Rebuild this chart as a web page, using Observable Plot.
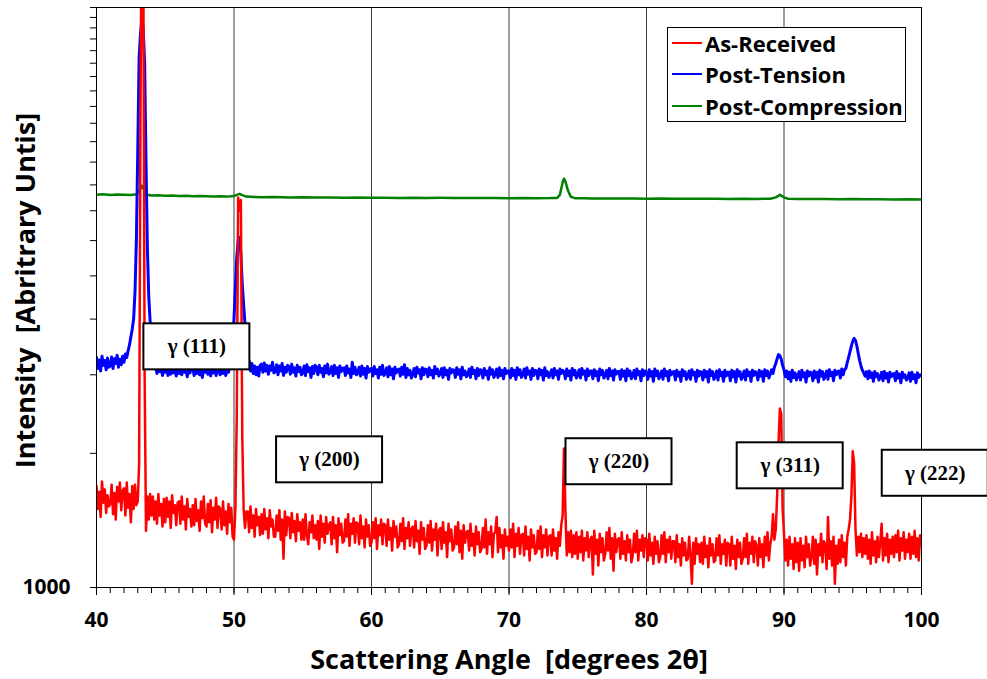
<!DOCTYPE html>
<html><head><meta charset="utf-8">
<script src="https://cdn.jsdelivr.net/npm/d3@7"></script>
<script src="https://cdn.jsdelivr.net/npm/@observablehq/plot@0.6"></script>
<style>
html,body{margin:0;padding:0;background:#fff;}
#chart{position:relative;width:987px;height:679px;}
#legend{position:absolute;left:667px;top:27px;width:237px;height:93px;border:1px solid #000;background:#fff;font-family:"Open Sans",sans-serif;font-weight:bold;font-size:22px;color:#000;}
.item{position:absolute;left:4px;height:24px;display:flex;align-items:center;white-space:nowrap;}
.sw{width:30px;height:2.5px;margin-right:3px;}
</style></head><body><div id="chart"></div>
<script>
// ---- series meta ----
const seriesNames = ["As-Received", "Post-Tension", "Post-Compression"];
const seriesColors = ["#ff0000", "#0000ff", "#008000"];

// ---- sampling grid of the red/blue scans: 40° .. 100° every 0.1° ----
const scanStart = 40, scanStep = 0.1;

// ---- As-Received intensities (one row = one degree, 10 samples) ----
const redValues = [
1690,1500,1640,1440,1730,1550,1660,1470,1610,1520, // 40
1540,1700,1460,1630,1420,1680,1560,1720,1490,1650, // 41
1670,1450,1720,1510,1620,1400,1690,1500,1700,1530, // 42
1560,1900,12000,40000,30000,3000,1340,1600,1420,1620, // 43
1450,1600,1420,1560,1390,1620,1450,1540,1370,1580, // 44
1400,1590,1440,1560,1360,1610,1470,1530,1380,1550, // 45
1560,1390,1600,1420,1520,1350,1580,1440,1500,1370, // 46
1530,1380,1580,1410,1490,1340,1560,1430,1600,1390, // 47
1370,1540,1400,1570,1330,1510,1420,1590,1360,1520, // 48
1500,1350,1560,1380,1480,1320,1540,1400,1510,1300, // 49
1280,1500,2400,7500,7000,7400,2200,1500,1360,1480, // 50
1480,1330,1520,1360,1450,1300,1500,1380,1440,1310, // 51
1460,1320,1500,1350,1430,1290,1490,1370,1420,1300, // 52
1300,1450,1340,1490,1280,1420,1160,1480,1310,1440, // 53
1430,1290,1470,1330,1410,1270,1460,1340,1400,1280, // 54
1420,1280,1460,1310,1250,1400,1330,1450,1290,1380, // 55
1280,1410,1220,1450,1300,1390,1260,1440,1320,1380, // 56
1400,1250,1440,1290,1380,1200,1430,1310,1390,1260, // 57
1270,1420,1300,1460,1240,1390,1320,1430,1260,1400, // 58
1390,1250,1450,1290,1370,1230,1420,1300,1380,1240, // 59
1260,1400,1290,1430,1220,1380,1310,1420,1250,1390, // 60
1380,1240,1420,1280,1360,1210,1410,1300,1370,1230, // 61
1250,1390,1270,1430,1220,1360,1290,1400,1240,1350, // 62
1370,1230,1410,1270,1340,1190,1400,1280,1360,1220, // 63
1240,1380,1260,1410,1210,1350,1280,1390,1180,1340, // 64
1360,1220,1400,1260,1330,1170,1390,1270,1350,1210, // 65
1230,1370,1250,1400,1200,1340,1160,1380,1260,1330, // 66
1340,1210,1390,1240,1320,1180,1370,1250,1330,1200, // 67
1220,1360,1230,1420,1190,1330,1250,1370,1170,1320, // 68
1330,1440,1200,1360,1230,1310,1160,1350,1240,1300, // 69
1210,1350,1230,1390,1170,1320,1240,1360,1190,1310, // 70
1320,1180,1370,1220,1300,1150,1350,1230,1310,1190, // 71
1200,1340,1220,1370,1170,1310,1230,1350,1180,1300, // 72
1310,1180,1350,1210,1290,1160,1330,1240,1380,1450, // 73
2050,1500,1180,1330,1200,1340,1170,1310,1190,1330, // 74
1160,1300,1200,1340,1150,1290,1210,1330,1170,1280, // 75
1300,1070,1340,1190,1280,1120,1320,1200,1290,1150, // 76
1190,1330,1210,1360,1160,1290,1090,1320,1200,1280, // 77
1290,1160,1330,1190,1270,1150,1310,1200,1280,1140, // 78
1180,1320,1200,1340,1150,1280,1210,1310,1170,1290, // 79
1280,1150,1320,1180,1260,1130,1300,1190,1270,1140, // 80
1170,1310,1190,1330,1140,1280,1200,1300,1160,1270, // 81
1270,1140,1310,1170,1250,1120,1290,1180,1260,1150, // 82
1160,1300,1180,1020,1260,1130,1290,1190,1250,1140, // 83
1260,1130,1300,1170,1240,1110,1290,1180,1250,1140, // 84
1150,1290,1180,1310,1130,1250,1190,1280,1120,1260, // 85
1250,1120,1300,1160,1240,1100,1280,1170,1260,1130, // 86
1160,1290,1170,1320,1130,1260,1190,1300,1140,1270, // 87
1240,1120,1290,1170,1250,1110,1300,1180,1330,1150, // 88
1250,1300,1460,1280,1350,1600,2100,2520,2450,1500, // 89
1320,1150,1280,1120,1300,1160,1250,1100,1290,1140, // 90
1260,1090,1290,1150,1240,1110,1300,1170,1250,1120, // 91
1170,1300,1130,1280,1070,1250,1180,1320,1140,1270, // 92
1250,1100,1440,1160,1270,1120,1300,1020,1240,1130, // 93
1280,1140,1310,1170,1260,1120,1300,1350,1420,1600, // 94
2020,1900,1350,1180,1300,1200,1320,1170,1290,1190, // 95
1310,1160,1280,1130,1330,1180,1270,1140,1300,1170, // 96
1260,1390,1150,1290,1180,1320,1140,1280,1190,1300, // 97
1170,1310,1200,1340,1150,1290,1210,1330,1160,1280, // 98
1200,1320,1160,1300,1190,1340,1170,1290,1150,1310, // 99
1240 // 100
];

// ---- Post-Tension intensities (same grid) ----
const blueValues = [
3280,3100,3240,3060,3300,3150,3230,3080,3270,3120, // 40
3140,3290,3100,3260,3180,3320,3120,3250,3160,3300, // 41
3200,3340,3280,3400,3500,3650,3800,4000,4600,6000, // 42
9500,15500,17500,18700,17800,15000,9000,5800,4500,3950, // 43
3550,3300,3150,3120,3020,3160,3050,3130,2990,3110, // 44
3040,3150,2990,3120,3010,3170,3030,3110,2980,3140, // 45
3020,3130,3000,3160,3040,3100,2970,3150,3030,3120, // 46
3110,2990,3140,3020,3170,3000,3090,2960,3130,3040, // 47
3150,3010,3100,2980,3140,3030,3120,2990,3160,3050, // 48
3000,3130,3020,3150,2990,3110,3040,3170,3250,3600, // 49
4000,4700,5500,6000,6100,5600,4800,4300,3900,3400, // 50
3150,3230,3060,3180,3020,3140,3000,3120,2980,3150, // 51
3170,3040,3190,3060,3150,3010,3140,3070,3200,3030, // 52
3050,3160,3000,3140,3060,3180,2990,3120,3040,3150, // 53
3130,3010,3170,3040,3110,2980,3150,3050,3120,3000, // 54
3030,3140,2990,3160,3050,3110,2960,3130,3020,3150, // 55
3120,3000,3150,3040,3100,2970,3140,3030,3170,3010, // 56
3040,3130,2990,3150,3020,3110,2960,3140,3050,3100, // 57
3110,2990,3140,3030,3090,2960,3200,3020,3120,3000, // 58
3030,3120,2980,3140,3010,3100,2950,3130,3040,3090, // 59
3100,2980,3130,3020,3080,2950,3120,3010,3150,2990, // 60
3020,3110,2970,3130,3000,3090,2940,3120,3030,3080, // 61
3090,2980,3120,3010,3160,2960,3100,3000,3070,2950, // 62
3010,3100,2970,3120,3030,3080,2940,3110,3000,3090, // 63
3080,2970,3110,3000,3070,2950,3130,3020,3090,2980, // 64
3020,3100,2960,3110,3000,3070,2930,3100,3030,3080, // 65
3070,2960,3110,3010,3080,2940,3120,3000,3060,2970, // 66
3000,3090,2960,3120,3020,3070,2940,3100,2990,3080, // 67
3070,2950,3100,3000,3060,2930,3110,3010,3080,2960, // 68
3010,3090,2960,3110,2990,3070,2940,3100,3020,3060, // 69
3060,2950,3100,2990,3070,2930,3110,3000,3080,2960, // 70
3000,3090,2950,3110,3010,3060,2930,3100,2990,3070, // 71
3060,2940,3090,3000,3070,2920,3110,2990,3050,2960, // 72
3010,3080,2950,3100,3000,3060,2930,3090,3020,3070, // 73
3050,2940,3090,2990,3060,2920,3100,3000,3070,2950, // 74
3000,3080,2950,3100,3010,3060,2920,3090,2990,3060, // 75
3060,2940,3080,2990,3050,2910,3090,3000,3070,2950, // 76
3000,3070,2940,3100,2990,3060,2920,3080,3010,3050, // 77
3050,2930,3080,2980,3060,2910,3090,2990,3060,2940, // 78
2990,3070,2940,3090,3000,3050,2910,3080,2990,3060, // 79
3040,2930,3080,2980,3050,2900,3090,2990,3060,2940, // 80
2990,3060,2930,3090,2990,3050,2910,3070,3000,3040, // 81
3050,2920,3070,2980,3040,2900,3080,2990,3050,2930, // 82
2980,3060,2930,3080,3000,3040,2900,3070,2980,3050, // 83
3040,2920,3070,2970,3050,2890,3080,2990,3050,2930, // 84
2980,3060,2920,3080,2990,3040,2900,3070,2980,3040, // 85
3040,2910,3070,2970,3050,2890,3080,2980,3050,2930, // 86
2980,3060,2920,3080,2990,3040,2900,3070,2990,3050, // 87
3030,2920,3070,2980,3050,2900,3080,2990,3060,2950, // 88
3010,3080,3020,3120,3180,3260,3330,3310,3250,3150, // 89
3080,2970,3060,2940,3040,2900,3070,2960,3030,2920, // 90
2980,3050,2920,3070,2970,3030,2890,3060,2980,3040, // 91
3030,2910,3060,2960,3040,2890,3070,2980,3050,2930, // 92
2980,3060,2930,3080,2990,3040,2910,3070,3000,3050, // 93
3060,2950,3090,3000,3080,3100,3200,3280,3380,3480, // 94
3570,3620,3580,3480,3350,3230,3140,3070,3030,2980, // 95
3050,2940,3060,2960,3030,2900,3050,2970,3020,2920, // 96
2960,3040,2910,3050,2950,3020,2890,3040,2970,3010, // 97
3020,2910,3050,2950,3010,2880,3040,2960,3000,2920, // 98
2950,3030,2900,3040,2940,3000,2880,3030,2960,3000, // 99
2990 // 100
];

// ---- Post-Compression (sparser scan) ----
const greenAngles = [40,40.5,41,41.5,42,42.5,42.9,43.1,43.3,43.5,43.7,44,44.5,45,45.5,46,46.5,47,47.5,48,48.5,49,49.5,50,50.2,50.4,50.6,50.9,51.5,52,53,54,55,56,57,58,59,60,61,62,63,64,65,66,67,68,69,70,71,72,73,73.5,73.7,73.9,74.0,74.1,74.3,74.5,74.8,75.5,76,77,78,79,80,81,82,83,84,85,86,87,88,89,89.4,89.7,90,90.3,91,92,93,94,95,96,97,98,99,100];
const greenValues = [7600,7620,7590,7610,7600,7590,7620,7750,7970,7760,7600,7570,7580,7560,7570,7550,7560,7540,7550,7540,7530,7540,7530,7550,7600,7640,7590,7530,7520,7510,7515,7500,7505,7495,7500,7490,7495,7485,7490,7480,7485,7478,7482,7475,7480,7472,7478,7470,7475,7468,7472,7480,7600,8100,8260,8150,7750,7520,7470,7465,7460,7462,7455,7458,7450,7455,7448,7452,7445,7450,7442,7448,7440,7450,7500,7600,7500,7450,7440,7435,7440,7430,7435,7425,7430,7420,7425,7415];

// ---- peak annotations ----
const peakLabels = ["γ (111)", "γ (200)", "γ (220)", "γ (311)", "γ (222)"];
const labelAngles = [47.3, 56.95, 78.0, 90.45, 101.0];
const labelIntensities = [3470, 1936, 1917, 1877, 1806];

// ---- ticks & titles ----
const xTickValues = [40, 50, 60, 70, 80, 90, 100];
const xGridValues = [50, 60, 70, 80, 90];
const xMinorTicks = d3.range(40, 101, 1);
const yMinorTicks = d3.range(1000, 20001, 1000);
const yLabelTicks = [1000];
const xTitle = "Scattering Angle \u00a0[degrees 2θ]";
const yTitle = "Intensity \u00a0[Abritrary Untis]";

if (redValues.length !== 601 || blueValues.length !== 601 || greenAngles.length !== greenValues.length)
  throw new Error("length mismatch " + redValues.length + " " + blueValues.length + " " + greenAngles.length + " " + greenValues.length);

const redData = redValues.map((v, i) => ({angle: scanStart + i * scanStep, value: v}));
const blueData = blueValues.map((v, i) => ({angle: scanStart + i * scanStep, value: v}));
const greenData = greenValues.map((v, i) => ({angle: greenAngles[i], value: v}));

const sans = "'Open Sans', sans-serif";

const plot = Plot.plot({
  width: 987, height: 679,
  marginTop: 7, marginBottom: 92, marginLeft: 96, marginRight: 66,
  style: {fontFamily: sans, background: "#fff", overflow: "visible", color: "#000"},
  x: {domain: [40, 100]},
  y: {type: "log", domain: [1000, 20000]},
  marks: [
    Plot.gridX(xGridValues, {stroke: "#3a3a3a", strokeOpacity: 1, strokeWidth: 1}),
    Plot.line(greenData, {x: "angle", y: "value", stroke: seriesColors[2], strokeWidth: 2.5, clip: true}),
    Plot.line(blueData, {x: "angle", y: "value", stroke: seriesColors[1], strokeWidth: 3, clip: true}),
    Plot.line(redData, {x: "angle", y: "value", stroke: seriesColors[0], strokeWidth: 2.5, clip: true}),
    Plot.frame({stroke: "#000", strokeWidth: 1}),
    Plot.axisX(xMinorTicks, {tickSize: 6, tickFormat: () => "", label: null}),
    Plot.axisX(xTickValues, {tickSize: 8, tickPadding: 17, fontSize: 21, fontWeight: "bold", fontFamily: sans, label: null}),
    Plot.axisY(yMinorTicks, {tickSize: 6, tickFormat: () => "", label: null}),
    Plot.axisY(yLabelTicks, {tickSize: 6, tickPadding: 20, fontSize: 21, fontWeight: "bold", fontFamily: sans, tickFormat: d => String(d), label: null}),
    Plot.text([xTitle], {frameAnchor: "bottom", textAnchor: "middle", lineAnchor: "middle", dy: 73, fontSize: 27, fontWeight: "bold", fontFamily: sans, text: d => d}),
    Plot.text([yTitle], {frameAnchor: "left", textAnchor: "middle", lineAnchor: "middle", rotate: -90, dx: -70, dy: -7, fontSize: 27, fontWeight: "bold", fontFamily: sans, text: d => d}),
    Plot.text(peakLabels, {x: (d, i) => labelAngles[i], y: (d, i) => labelIntensities[i], text: d => d,
      fontFamily: "Liberation Serif", fontWeight: "bold", fontSize: 21, fill: "#000"})
  ]
});

const chart = document.getElementById("chart");
chart.append(plot);

// boxes behind the peak labels
plot.querySelectorAll("text").forEach(t => {
  if (peakLabels.includes(t.textContent)) {
    const b = t.getBBox();
    const cx = b.x + b.width / 2, cy = b.y + b.height / 2;
    const r = document.createElementNS("http://www.w3.org/2000/svg", "rect");
    r.setAttribute("x", cx - 53);
    r.setAttribute("y", cy - 23);
    r.setAttribute("width", 106);
    r.setAttribute("height", 46);
    r.setAttribute("fill", "#fff");
    r.setAttribute("stroke", "#000");
    r.setAttribute("stroke-width", 2);
    if (t.getAttribute("transform")) r.setAttribute("transform", t.getAttribute("transform"));
    t.parentNode.insertBefore(r, t);
  }
});

// legend
const legend = document.createElement("div");
legend.id = "legend";
const rowTops = [3, 34, 66];
seriesNames.forEach((name, i) => {
  const item = document.createElement("div");
  item.className = "item";
  item.style.top = rowTops[i] + "px";
  const sw = document.createElement("span");
  sw.className = "sw";
  sw.style.background = seriesColors[i];
  const label = document.createElement("span");
  label.textContent = name;
  item.append(sw, label);
  legend.append(item);
});
chart.append(legend);
</script></body></html>
